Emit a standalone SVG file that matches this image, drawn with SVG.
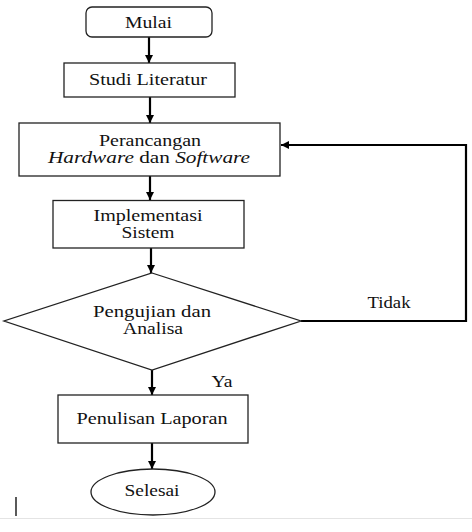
<svg xmlns="http://www.w3.org/2000/svg" width="472" height="532" viewBox="0 0 472 532">
<defs>
<marker id="ah" markerUnits="userSpaceOnUse" markerWidth="9" markerHeight="9" refX="8" refY="4" orient="auto">
<path d="M0,0 L8,4 L0,8 z" fill="#000"/>
</marker>
<style>
.box{fill:#fff;stroke:#222;stroke-width:1.3}
.t{font-family:"Liberation Serif","Times New Roman",serif;font-size:16px;fill:#111;text-anchor:middle}
.c{fill:none;stroke:#000;stroke-width:2.2;marker-end:url(#ah)}
</style>
</defs>
<rect width="472" height="532" fill="#fff"/>
<g id="connectors">
<line class="c" x1="149" y1="37" x2="149" y2="63"/>
<line class="c" x1="150" y1="97" x2="150" y2="123"/>
<line class="c" x1="150" y1="176" x2="150" y2="200"/>
<line class="c" x1="151" y1="248" x2="151" y2="273"/>
<line class="c" x1="152" y1="370" x2="152" y2="395"/>
<line class="c" x1="152" y1="443" x2="152" y2="469"/>
<path class="c" d="M301,321 H466 V145 H281"/>
<text class="t" x="389" y="308" textLength="43" lengthAdjust="spacingAndGlyphs">Tidak</text>
<text class="t" x="222" y="387" textLength="21" lengthAdjust="spacingAndGlyphs">Ya</text>
</g>
<g id="mulai">
<rect class="box" x="86" y="7" width="126" height="30" rx="6"/>
<text class="t" x="148.5" y="28" textLength="47" lengthAdjust="spacingAndGlyphs">Mulai</text>
</g>
<g id="studi">
<rect class="box" x="64" y="63" width="171" height="34"/>
<text class="t" x="148" y="85" textLength="118" lengthAdjust="spacingAndGlyphs">Studi Literatur</text>
</g>
<g id="perancangan">
<rect class="box" x="19" y="123" width="261" height="53"/>
<text class="t" x="150" y="145.5" textLength="102" lengthAdjust="spacingAndGlyphs">Perancangan</text>
<text class="t" x="149" y="162.5" textLength="202" lengthAdjust="spacingAndGlyphs"><tspan font-style="italic">Hardware</tspan> dan <tspan font-style="italic">Software</tspan></text>
</g>
<g id="implementasi">
<rect class="box" x="53" y="200.5" width="191" height="47.5"/>
<text class="t" x="148" y="220.5" textLength="109" lengthAdjust="spacingAndGlyphs">Implementasi</text>
<text class="t" x="148" y="238" textLength="53" lengthAdjust="spacingAndGlyphs">Sistem</text>
</g>
<g id="pengujian">
<polygon class="box" points="152,273 301,321 152,370 4,321"/>
<text class="t" x="152" y="316.5" textLength="118" lengthAdjust="spacingAndGlyphs">Pengujian dan</text>
<text class="t" x="153" y="334" textLength="60" lengthAdjust="spacingAndGlyphs">Analisa</text>
</g>
<g id="penulisan">
<rect class="box" x="58" y="395" width="190" height="48"/>
<text class="t" x="152" y="424" textLength="151" lengthAdjust="spacingAndGlyphs">Penulisan Laporan</text>
</g>
<g id="selesai">
<ellipse class="box" cx="153" cy="492" rx="62" ry="23"/>
<text class="t" x="152" y="496" textLength="55" lengthAdjust="spacingAndGlyphs">Selesai</text>
</g>
<line x1="0" y1="518.5" x2="472" y2="518.5" stroke="#e4e4e4" stroke-width="1"/>
<line x1="16" y1="497" x2="16" y2="516" stroke="#000" stroke-width="1.3"/>
</svg>
